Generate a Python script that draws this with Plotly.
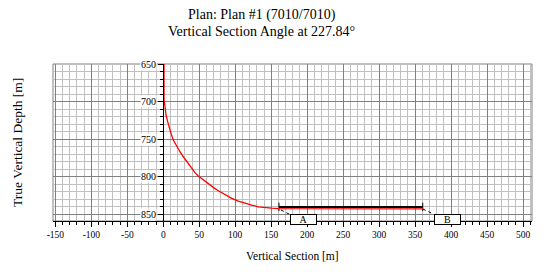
import plotly.graph_objects as go

# ---- data ----
well_vs = [0, 0, 1.0, 2.4, 3.8, 6.1, 7.9, 10.7, 13.9, 18.6, 23.2, 27.8, 32.5, 38.5, 44.1,
           48.7, 55.6, 62.6, 69.5, 76.5, 85.8, 95.1, 104.3, 113.6, 122.9, 132.1, 141.4,
           150.7, 159.9, 360.6]
well_tvd = [0, 692, 698, 706.8, 717.8, 726.7, 733.4, 742.2, 751.1, 760, 766.6, 773.3, 779.9,
            787.4, 794.5, 798.9, 804.3, 809.6, 814, 818.5, 823.8, 828.6, 832.2, 835.2, 837.5,
            839.8, 841.1, 841.7, 842.2, 842.6]

target_vs = [160.8, 360.6]
target_tvd = [840.0, 840.0]

leader_a_vs = [163.6, 176]
leader_a_tvd = [844.1, 850]
leader_b_vs = [361, 375.3]
leader_b_tvd = [842.8, 849.5]

label_text = ["A", "B"]
label_vs = [195.2, 394.4]
label_tvd = [856.4, 856.4]

x_tick_vals = [-150, -100, -50, 0, 50, 100, 150, 200, 250, 300, 350, 400, 450, 500]
x_tick_text = [str(v) for v in x_tick_vals]
y_tick_vals = [650, 700, 750, 800, 850]
y_tick_text = [str(v) for v in y_tick_vals]

x_range = [-153.3, 512.5]
y_range = [858.7, 650]

FONT = "Liberation Serif"

fig = go.Figure()

fig.add_trace(go.Scatter(x=leader_a_vs, y=leader_a_tvd, mode="lines",
                         line=dict(color="black", width=1, dash="dot"),
                         hoverinfo="skip", showlegend=False))
fig.add_trace(go.Scatter(x=leader_b_vs, y=leader_b_tvd, mode="lines",
                         line=dict(color="black", width=1, dash="dot"),
                         hoverinfo="skip", showlegend=False))
fig.add_trace(go.Scatter(x=target_vs, y=target_tvd, mode="lines+markers",
                         line=dict(color="black", width=2),
                         marker=dict(symbol="line-ns", size=6, color="black",
                                     line=dict(width=1, color="black")),
                         showlegend=False))
fig.add_trace(go.Scatter(x=well_vs, y=well_tvd, mode="lines",
                         line=dict(color="#ff0000", width=1.3),
                         showlegend=False))

annotations = []
# y tick labels with white background, placed next to the y axis at x=0
for v, t in zip(y_tick_vals, y_tick_text):
    annotations.append(dict(x=0, y=v, xref="x", yref="y", text=t, showarrow=False,
                            xanchor="right", yanchor="middle", xshift=-6,
                            bgcolor="white", borderpad=0,
                            font=dict(family=FONT, size=10, color="black")))
# section labels
for t, xv, yv in zip(label_text, label_vs, label_tvd):
    annotations.append(dict(x=xv, y=yv, xref="x", yref="y", text=t, showarrow=False,
                            xanchor="center", yanchor="middle",
                            bgcolor="white", bordercolor="black", borderwidth=1,
                            borderpad=0, width=25, height=9,
                            font=dict(family=FONT, size=10, color="black")))
# titles
annotations.append(dict(x=(261.5 - 53) / 479, y=1 + (64 - 14.6) / 157, xref="paper", yref="paper",
                        text="Plan: Plan #1 (7010/7010)", showarrow=False,
                        xanchor="center", yanchor="middle",
                        font=dict(family=FONT, size=14, color="black")))
annotations.append(dict(x=(261.5 - 53) / 479, y=1 + (64 - 31.3) / 157, xref="paper", yref="paper",
                        text="Vertical Section Angle at 227.84°", showarrow=False,
                        xanchor="center", yanchor="middle",
                        font=dict(family=FONT, size=14, color="black")))
annotations.append(dict(x=0.5, y=-(255 - 220.5) / 157, xref="paper", yref="paper",
                        text="Vertical Section [m]", showarrow=False,
                        xanchor="center", yanchor="middle",
                        font=dict(family=FONT, size=11.5, color="black")))
annotations.append(dict(x=(17.5 - 53) / 479, y=0.5, xref="paper", yref="paper",
                        text="True Vertical Depth [m]", showarrow=False, textangle=-90,
                        xanchor="center", yanchor="middle",
                        font=dict(family=FONT, size=13.5, color="black")))

fig.update_layout(
    width=553, height=272,
    margin=dict(l=53, r=21, t=64, b=51),
    paper_bgcolor="white", plot_bgcolor="white",
    font=dict(family=FONT, size=10, color="black"),
    annotations=annotations,
    shapes=[dict(type="rect", xref="paper", yref="paper", x0=0, x1=1, y0=0, y1=1,
                 line=dict(color="#808080", width=1), layer="below")],
    xaxis=dict(range=x_range, tickmode="array", tickvals=x_tick_vals, ticktext=x_tick_text,
               showgrid=True, gridcolor="#808080", gridwidth=1,
               zeroline=False, showline=True, linecolor="black", linewidth=1,
               ticks="outside", ticklen=5, tickcolor="black", tickwidth=1,
               tickfont=dict(family=FONT, size=9.5, color="black"),
               minor=dict(dtick=10, tick0=0, showgrid=True, gridcolor="#c0c0c0", gridwidth=1,
                          ticks="outside", ticklen=3, tickcolor="black", tickwidth=1)),
    yaxis=dict(range=y_range, anchor="free",
               position=(0 - x_range[0]) / (x_range[1] - x_range[0]),
               tickmode="array", tickvals=y_tick_vals, showticklabels=False,
               showgrid=True, gridcolor="#808080", gridwidth=1,
               zeroline=False, showline=True, linecolor="black", linewidth=1,
               ticks="outside", ticklen=5, tickcolor="black", tickwidth=1,
               minor=dict(dtick=10, tick0=0, showgrid=True, gridcolor="#c0c0c0", gridwidth=1,
                          ticks="outside", ticklen=3, tickcolor="black", tickwidth=1)),
)

fig.write_html("out.html")
